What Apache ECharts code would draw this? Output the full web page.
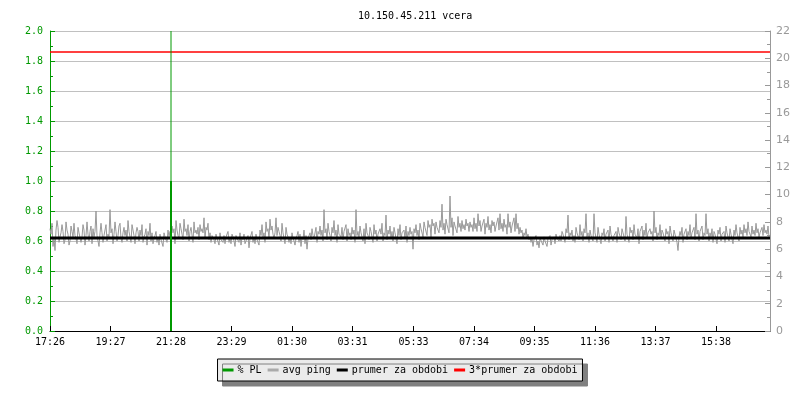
<!DOCTYPE html>
<html><head><meta charset="utf-8">
<script src="https://cdn.jsdelivr.net/npm/echarts@6/dist/echarts.min.js"></script>
<style>html,body{margin:0;padding:0;background:#fff}#c{width:800px;height:400px}</style>
</head><body><div id="c"></div>
<script>
// time axis: minutes after 17:26, 2-minute samples
var stepMinutes = 2;
var totalMinutes = 1440;
var xTickMinutes = [0, 121, 242, 363, 484, 605, 727, 848, 969, 1090, 1211, 1332];
var xTickLabels = ['17:26','19:27','21:28','23:29','01:30','03:31','05:33','07:34','09:35','11:36','13:37','15:38'];
// avg ping (ms) (one row = one hour)
var pingValues = [
7.5,7.1,7.9,6.2,6.8,5.9,7.4,8.1,7.6,6.5,6.9,7.2,7.8,7.3,6.4,6.7,8.0,7.4,7.1,6.3,6.6,7.7,7.3,6.9,7.9,7.0,6.8,6.4,7.6,7.2,
7.2,6.5,6.9,7.8,7.4,6.3,7.0,8.0,7.1,6.6,7.3,7.7,6.4,7.5,6.9,7.3,8.8,7.0,6.6,6.2,7.2,7.9,7.2,6.5,7.0,7.4,7.8,6.6,7.1,6.9,
8.9,7.2,7.5,6.4,7.1,8.0,7.3,6.6,7.0,7.7,7.9,6.8,6.5,7.2,7.6,7.0,7.4,6.6,8.1,7.3,6.9,6.5,7.8,7.4,7.0,6.4,7.2,7.6,7.3,6.6,
7.4,7.0,7.8,6.5,6.9,7.1,7.5,6.3,7.3,7.0,7.9,6.6,7.2,6.4,6.8,7.0,7.3,6.5,6.9,6.3,7.1,6.7,6.8,6.2,7.2,6.9,7.0,6.5,7.4,6.9,
7.3,6.8,7.7,7.2,7.5,6.4,8.1,7.4,7.0,6.8,7.9,7.5,7.1,6.7,8.2,7.3,7.5,7.0,7.8,6.6,7.3,7.6,7.7,6.5,8.0,7.2,7.4,7.1,7.6,6.7,
7.8,7.3,7.5,7.2,8.3,6.8,7.6,7.4,7.9,6.7,7.2,6.5,7.0,6.9,6.7,6.4,7.1,6.8,6.9,6.3,7.2,6.7,6.8,6.5,7.0,6.4,6.9,6.8,7.3,6.5,
6.8,6.4,7.1,6.9,6.6,6.2,7.0,6.8,6.7,6.5,7.2,6.3,6.9,6.7,7.1,6.4,6.6,6.8,7.0,6.1,6.8,6.9,7.3,6.5,6.9,6.4,7.1,6.7,6.8,6.3,
7.4,7.0,7.8,6.9,7.2,6.5,8.0,7.3,7.5,6.8,8.2,7.4,7.7,7.1,6.8,7.2,8.3,7.0,7.6,7.3,7.0,6.6,7.9,7.2,6.8,6.4,7.6,7.1,6.9,6.5,
6.9,6.4,7.2,6.8,6.6,6.3,6.8,7.0,7.3,6.5,7.1,6.2,6.9,6.7,7.4,6.4,7.0,6.0,6.8,6.9,7.2,6.7,7.5,7.0,6.8,6.8,7.6,6.5,7.3,7.1,
7.7,7.0,7.4,6.6,8.9,7.2,7.5,6.7,7.9,7.3,7.0,6.6,7.6,7.2,8.1,7.0,7.4,6.5,7.8,7.1,7.2,6.9,7.6,6.7,7.3,7.2,7.8,6.6,7.5,7.0,
7.2,6.7,7.6,7.1,7.4,6.5,8.9,7.0,7.3,6.8,7.7,7.2,7.1,6.6,7.5,6.4,7.9,7.2,7.0,6.7,7.6,7.3,7.3,6.5,7.8,7.1,7.4,6.6,7.1,7.0,
7.5,7.1,7.9,6.6,7.2,7.0,8.5,6.7,7.4,7.1,7.7,6.8,7.3,6.6,7.6,7.2,7.1,6.4,7.5,7.0,7.8,6.7,7.2,7.1,7.4,6.8,7.7,6.5,7.3,7.0,
7.6,7.1,7.3,6.0,7.5,7.2,7.8,7.0,7.4,6.7,7.9,7.5,7.6,6.9,8.0,7.6,7.7,7.0,8.1,7.6,7.8,6.9,8.2,7.7,7.9,7.1,8.0,7.6,7.7,7.2,
8.1,7.6,9.3,7.4,7.9,7.1,8.2,7.8,7.8,7.2,9.9,7.6,8.3,7.0,8.0,7.7,7.7,7.2,8.4,7.6,7.9,7.3,8.1,7.5,7.8,7.4,8.2,7.7,7.9,7.3,
8.0,7.6,7.8,7.3,8.3,7.5,7.9,7.3,8.6,7.7,8.1,7.3,7.7,7.6,8.2,7.1,7.9,7.6,8.4,7.4,7.8,7.2,8.1,7.7,8.0,7.3,7.7,7.6,8.3,7.4,
8.6,7.5,7.9,7.3,8.2,7.6,7.8,7.1,8.6,7.6,8.0,7.2,7.7,7.6,8.3,7.3,8.6,7.5,7.9,7.1,7.6,7.2,7.4,6.8,7.2,7.0,7.5,6.9,7.1,6.7,
6.9,6.5,6.8,6.2,6.7,6.6,7.0,6.3,6.6,6.1,6.8,6.7,6.7,6.3,6.9,6.6,6.6,6.2,6.8,6.7,7.0,6.3,6.7,6.6,6.9,6.4,7.1,6.8,6.8,6.6,
7.0,6.6,7.3,7.1,7.1,6.5,7.5,7.2,8.5,6.7,7.2,7.0,7.4,6.6,7.0,6.5,7.6,7.2,7.2,6.7,7.8,7.0,7.3,6.6,7.5,7.2,8.6,6.9,7.2,6.5,
7.4,7.0,7.1,6.6,8.6,7.2,7.3,6.5,7.6,7.1,7.0,6.4,7.2,7.0,7.5,6.6,7.1,7.2,7.4,6.5,7.7,7.1,7.2,6.6,7.0,7.1,7.3,6.5,7.6,7.2,
7.2,6.7,7.5,7.2,7.3,6.6,8.4,7.1,7.1,6.5,7.6,7.2,7.4,6.7,7.8,7.1,7.2,6.8,7.5,6.4,7.3,7.2,7.7,6.7,7.4,7.0,7.9,6.8,7.2,7.1,
7.5,7.1,7.3,6.6,8.8,7.2,7.6,6.7,7.2,7.0,7.8,6.8,7.4,7.2,7.1,6.6,7.5,7.1,7.3,6.4,7.7,7.2,7.2,6.6,7.4,7.1,7.0,6.5,5.9,6.9,
7.3,7.0,7.6,6.5,7.1,7.2,7.5,6.7,7.3,7.0,7.8,6.8,7.2,7.1,7.6,6.7,8.6,7.1,7.4,6.6,7.3,7.2,7.7,6.7,7.2,7.0,8.6,7.1,7.5,6.6,
7.2,6.9,7.5,6.5,7.3,7.1,7.0,6.4,7.4,7.1,7.6,6.6,7.1,7.0,7.3,6.5,7.7,7.2,7.2,6.6,7.5,7.1,7.0,6.4,7.4,7.0,7.8,7.2,7.3,6.6,
7.6,7.1,7.4,6.9,7.8,7.2,7.5,7.0,8.0,7.3,7.3,6.9,7.7,7.1,7.4,7.0,7.9,7.2,7.5,6.9,7.2,7.1,7.6,7.0,7.8,7.2,7.4,7.1,7.7,6.9
];
// packet loss event (% PL axis)
var plMinutes = [242];
var plValues = [1.0];
var plPeakValues = [2.0];
// averages (ms)
var prumer = 6.82;
var prumer3 = 20.46;

var pingData = pingValues.map(function(v, i){ return [i * stepMinutes, v]; });
var plData = [];
plMinutes.forEach(function(m, i){ plData.push([m, 0]); plData.push([m, plValues[i]]); });
var plPeakData = [];
plMinutes.forEach(function(m, i){ plPeakData.push([m, plValues[i]]); plPeakData.push([m, plPeakValues[i]]); });

var mono = 'DejaVu Sans Mono';
var GREEN = '#009900';
var chart = echarts.init(document.getElementById('c'), null, {renderer: 'canvas'});
chart.setOption({
  animation: false,
  backgroundColor: '#fff',
  title: {
    text: '10.150.45.211 vcera', left: 353, top: 6,
    textStyle: {fontFamily: mono, fontSize: 10, fontWeight: 'normal', color: '#000'}
  },
  legend: {
    data: ['% PL', 'avg ping', 'prumer za obdobi', '3*prumer za obdobi'],
    left: 'center', top: 359,
    padding: [6, 5, 6, 5],
    itemWidth: 11, itemHeight: 3, itemGap: 6,
    icon: 'rect',
    backgroundColor: '#ebebeb', borderColor: '#000', borderWidth: 1,
    shadowColor: '#808080', shadowBlur: 0, shadowOffsetX: 5, shadowOffsetY: 5,
    textStyle: {fontFamily: mono, fontSize: 10, color: '#000', padding: [0, 0, 0, -1]}
  },
  grid: {left: 50, right: 30, top: 31, bottom: 69},
  xAxis: {
    type: 'value', min: 0, max: totalMinutes,
    axisLine: {show: true, lineStyle: {color: '#000', width: 1}},
    axisTick: {show: true, inside: true, length: 5, customValues: xTickMinutes, lineStyle: {color: '#000'}},
    axisLabel: {
      customValues: xTickMinutes,
      formatter: function(v){ var i = xTickMinutes.indexOf(v); return i >= 0 ? xTickLabels[i] : ''; },
      fontFamily: mono, fontSize: 10, color: '#000', margin: 6
    },
    splitLine: {show: false}
  },
  yAxis: [{
    type: 'value', min: 0, max: 2, interval: 0.2, position: 'left',
    axisLine: {show: true, lineStyle: {color: GREEN, width: 1}},
    axisTick: {show: true, inside: true, length: 5, lineStyle: {color: GREEN}},
    minorTick: {show: true, splitNumber: 2, length: 3, lineStyle: {color: GREEN}},
    axisLabel: {formatter: function(v){ return v.toFixed(1); }, fontFamily: mono, fontSize: 10, color: GREEN, margin: 7},
    splitLine: {show: true, lineStyle: {color: '#c0c0c0', width: 1}}
  }, {
    type: 'value', min: 0, max: 22, interval: 2, position: 'right',
    axisLine: {show: true, lineStyle: {color: '#999', width: 1}},
    axisTick: {show: true, inside: true, length: 5, lineStyle: {color: '#999'}},
    minorTick: {show: true, splitNumber: 2, length: 3, lineStyle: {color: '#999'}},
    axisLabel: {fontFamily: 'DejaVu Sans', fontSize: 11, color: '#999', margin: 6},
    splitLine: {show: false}
  }],
  series: [{
    name: 'avg ping', type: 'line', yAxisIndex: 1, data: pingData,
    symbol: 'none', lineStyle: {color: '#999999', width: 1}, itemStyle: {color: '#aaaaaa'}, z: 2
  }, {
    name: 'prumer za obdobi', type: 'line', yAxisIndex: 1,
    data: [[0, prumer], [totalMinutes, prumer]],
    symbol: 'none', lineStyle: {color: '#000', width: 3}, itemStyle: {color: '#000'}, z: 3
  }, {
    name: '3*prumer za obdobi', type: 'line', yAxisIndex: 1,
    data: [[0, prumer3], [totalMinutes, prumer3]],
    symbol: 'none', lineStyle: {color: '#ff0000', width: 1.5}, itemStyle: {color: '#ff0000'}, z: 3
  }, {
    name: '% PL', type: 'line', yAxisIndex: 0, data: plData,
    symbol: 'none', lineStyle: {color: GREEN, width: 2}, itemStyle: {color: GREEN}, z: 4
  }, {
    name: 'PL peak', type: 'line', yAxisIndex: 0, data: plPeakData,
    symbol: 'none', lineStyle: {color: GREEN, width: 1}, itemStyle: {color: GREEN}, z: 4
  }]
});
</script>
</body></html>
